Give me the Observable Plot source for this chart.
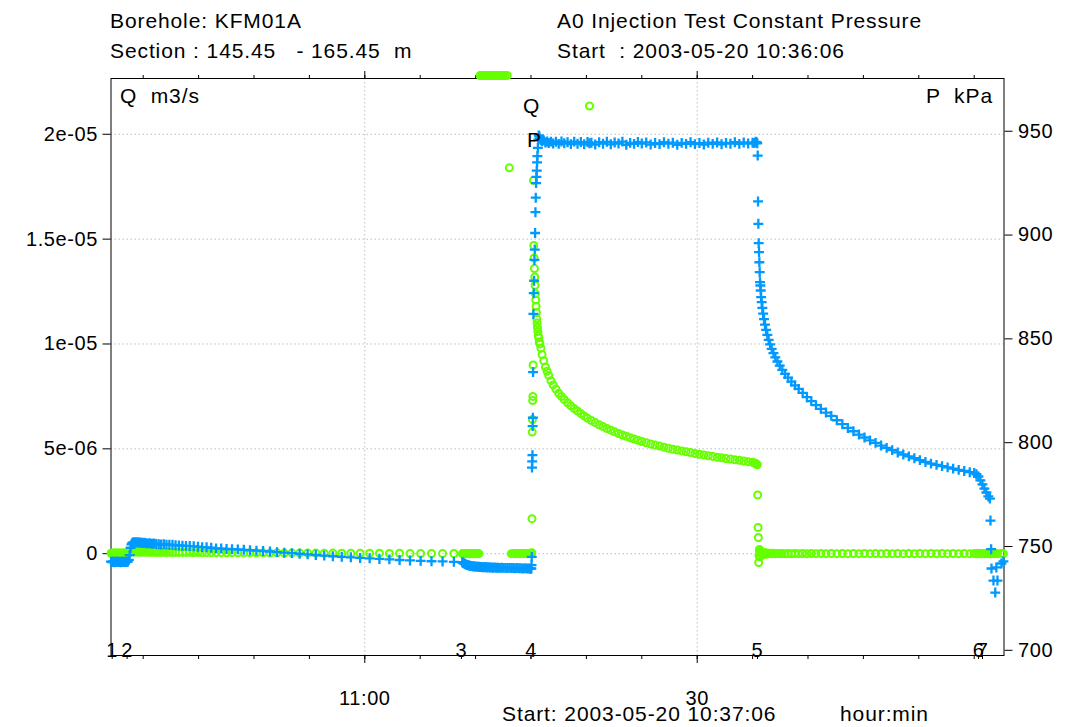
<!DOCTYPE html>
<html>
<head>
<meta charset="utf-8">
<script src="https://cdn.jsdelivr.net/npm/d3@7"></script>
<script src="https://cdn.jsdelivr.net/npm/@observablehq/plot@0.6"></script>
<style>
html,body{margin:0;padding:0;background:#fff;}
#wrap{position:relative;width:1069px;height:727px;overflow:hidden;font-family:"Liberation Sans",Arial,sans-serif;color:#000;}
#wrap svg{position:absolute;left:0;top:0;}
#wrap svg text{letter-spacing:0.6px;}
.lbl{position:absolute;font-size:21px;line-height:21px;letter-spacing:0.9px;white-space:pre;}
</style>
</head>
<body>
<div id="wrap"></div>
<script>
// ---- Data: [minutes after 10:00, Q (m3/s), P (kPa)] ----
const phaseIdle = [ // 10:37:06 -> event 3
[37.10,0.02e-6,742.7],[37.18,0.02e-6,742.5],[37.26,0.03e-6,742.8],[37.34,0.02e-6,742.6],[37.42,0.02e-6,742.4],
[37.50,0.03e-6,742.7],[37.58,0.02e-6,742.6],[37.66,0.02e-6,742.8],[37.74,0.03e-6,742.5],[37.82,0.02e-6,742.6],
[37.90,0.02e-6,742.7],[37.98,0.03e-6,742.4],[38.06,0.02e-6,742.6],[38.14,0.02e-6,742.8],[38.22,0.03e-6,742.5],
[38.30,0.02e-6,742.6],[38.38,0.02e-6,742.7],[38.46,0.03e-6,742.5],[38.54,0.02e-6,742.6],[38.62,0.02e-6,742.8],
[38.70,0.04e-6,743.6],[38.78,0.06e-6,745.8],[38.86,0.08e-6,749.4],[38.94,0.09e-6,751.0],[39.02,0.09e-6,751.7],
[39.12,0.09e-6,752.0],[39.22,0.08e-6,751.8],[39.32,0.09e-6,752.1],[39.44,0.08e-6,751.9],[39.56,0.09e-6,752.0],
[39.68,0.08e-6,751.8],[39.82,0.08e-6,751.9],[39.96,0.09e-6,751.7],[40.10,0.08e-6,751.8],[40.26,0.08e-6,751.6],
[40.42,0.08e-6,751.5],[40.60,0.07e-6,751.6],[40.78,0.08e-6,751.3],[40.98,0.07e-6,751.4],[41.18,0.07e-6,751.2],
[41.40,0.07e-6,751.1],[41.62,0.07e-6,751.0],[41.86,0.07e-6,751.1],[42.10,0.06e-6,750.9],[42.36,0.07e-6,750.8],
[42.64,0.06e-6,750.8],[42.92,0.06e-6,750.6],[43.22,0.06e-6,750.5],[43.54,0.06e-6,750.4],[43.86,0.06e-6,750.3],
[44.20,0.06e-6,750.2],[44.56,0.05e-6,750.1],[44.94,0.06e-6,749.9],[45.32,0.05e-6,749.7],[45.72,0.05e-6,749.6],
[46.14,0.05e-6,749.4],[46.58,0.05e-6,749.1],[47.04,0.05e-6,749.0],[47.52,0.04e-6,748.8],[48.02,0.05e-6,748.7],
[48.54,0.04e-6,748.6],[49.08,0.04e-6,748.4],[49.64,0.04e-6,748.2],[50.22,0.04e-6,748.0],[50.82,0.04e-6,747.8],
[51.44,0.03e-6,747.6],[52.08,0.04e-6,747.3],[52.74,0.03e-6,747.0],[53.42,0.03e-6,746.8],[54.12,0.03e-6,746.5],
[54.84,0.03e-6,746.2],[55.58,0.03e-6,745.9],[56.34,0.02e-6,745.6],[57.12,0.03e-6,745.3],[57.92,0.02e-6,745.0],
[58.74,0.02e-6,744.8],[59.58,0.02e-6,744.5],[60.44,0.02e-6,744.3],[61.32,0.02e-6,744.0],[62.22,0.01e-6,743.8],
[63.14,0.02e-6,743.5],[64.08,0.01e-6,743.3],[65.04,0.01e-6,743.1],[66.02,0.01e-6,742.9],[67.02,0.01e-6,742.8],
[68.04,0.01e-6,742.6]
];
const phasePreInjection = [ // event 3 -> event 4 (30e-6 = above axis range)
[68.80,0,742.4],[68.86,0.01e-6,742.2],[68.92,0,742.0],[68.98,0.01e-6,741.8],[69.04,0,741.6],
[69.10,0.01e-6,741.4],[69.18,0,741.2],[69.26,0.01e-6,741.1],[69.34,0,741.0],[69.42,0.01e-6,740.8],
[69.50,0,740.7],[69.60,0.01e-6,740.6],[69.70,0,740.5],[69.80,0.01e-6,740.5],[69.90,0,740.4],
[70.00,0.01e-6,740.3],[70.10,0,740.3],[70.20,0.01e-6,740.2],[70.30,0,740.2],
[70.40,30e-6,740.1],[70.52,30e-6,740.1],[70.64,30e-6,740.0],[70.76,30e-6,740.0],[70.88,30e-6,740.1],
[71.00,30e-6,739.9],[71.14,30e-6,740.0],[71.28,30e-6,739.9],[71.42,30e-6,739.9],[71.56,30e-6,739.8],
[71.70,30e-6,739.9],[71.86,30e-6,739.8],[72.02,30e-6,739.8],[72.18,30e-6,739.7],[72.34,30e-6,739.8],
[72.50,30e-6,739.7],[72.68,30e-6,739.7],[72.86,30e-6,739.6],
[73.04,18.4e-6,739.7],[73.22,0,739.6],[73.40,0.01e-6,739.6],[73.58,0,739.5],[73.76,0.01e-6,739.6],
[73.94,0,739.5],[74.12,0.01e-6,739.5],[74.30,0,739.4],[74.48,0.01e-6,739.5],[74.66,0,739.4],
[74.84,0.01e-6,739.4],[74.96,0,739.3]
];
const phaseInjection = [ // event 4 -> event 5
[75.03,0,739.4],[75.05,0.02e-6,741.0],[75.07,0.05e-6,745.0],[75.09,1.67e-6,788.0],[75.11,5.8e-6,791.0],
[75.13,6.4e-6,794.0],[75.15,7.3e-6,808.0],[75.17,7.5e-6,812.0],[75.19,9.0e-6,834.0],[75.22,17.8e-6,862.0],
[75.25,14.7e-6,872.0],[75.28,14.1e-6,878.0],[75.31,13.6e-6,888.0],[75.34,13.2e-6,893.0],[75.37,12.8e-6,901.0],
[75.40,12.4e-6,911.0],[75.43,12.1e-6,918.0],[75.46,11.8e-6,925.0],[75.49,11.5e-6,928.0],[75.52,11.2e-6,931.0],
[75.55,11.0e-6,935.0],[75.58,10.8e-6,938.0],[75.62,10.6e-6,942.0],[75.66,10.4e-6,946.0],[75.70,10.3e-6,948.0],
[75.75,10.1e-6,947.5],[75.80,10.0e-6,946.5],[75.90,9.8e-6,945.8],[76.00,9.5e-6,945.2],[76.15,9.2e-6,945.6],
[76.30,8.9e-6,944.6],[76.45,8.7e-6,945.1],[76.60,8.5e-6,944.3],[76.80,8.25e-6,945.0],[77.00,8.05e-6,944.1],
[77.25,7.85e-6,944.9],[77.50,7.65e-6,943.9],[77.75,7.5e-6,945.1],[78.00,7.35e-6,944.2],[78.30,7.2e-6,944.7],
[78.60,7.05e-6,943.8],[78.90,6.92e-6,945.0],[79.20,6.8e-6,944.0],[79.50,6.68e-6,944.8],[79.80,6.57e-6,943.7],
[80.10,6.46e-6,944.8],[80.28,21.35e-6,944.2],[80.45,6.35e-6,944.5],[80.80,6.25e-6,943.6],[81.15,6.15e-6,944.7],
[81.50,6.06e-6,944.0],[81.85,5.97e-6,944.9],[82.20,5.89e-6,943.7],[82.55,5.81e-6,944.6],[82.90,5.73e-6,944.1],
[83.25,5.66e-6,945.0],[83.60,5.6e-6,943.5],[83.95,5.53e-6,944.4],[84.30,5.47e-6,943.9],[84.65,5.41e-6,944.8],
[85.00,5.35e-6,944.1],[85.40,5.29e-6,944.6],[85.80,5.23e-6,943.6],[86.20,5.18e-6,944.3],[86.60,5.13e-6,943.8],
[87.00,5.08e-6,944.7],[87.40,5.03e-6,944.0],[87.80,4.98e-6,944.5],[88.20,4.94e-6,943.5],[88.60,4.9e-6,944.4],
[89.00,4.86e-6,943.9],[89.40,4.82e-6,944.7],[89.80,4.78e-6,943.8],[90.20,4.74e-6,944.3],[90.60,4.71e-6,943.6],
[91.00,4.67e-6,944.5],[91.40,4.64e-6,943.9],[91.80,4.6e-6,944.6],[92.20,4.57e-6,943.7],[92.60,4.54e-6,944.4],
[93.00,4.51e-6,944.0],[93.40,4.48e-6,944.7],[93.80,4.45e-6,943.9],[94.20,4.42e-6,944.6],[94.60,4.39e-6,944.1],
[95.00,4.36e-6,944.5],[95.15,4.33e-6,944.3],[95.28,4.3e-6,944.9],[95.38,4.26e-6,944.6],[95.42,4.24e-6,944.2]
];
const phaseRecovery = [ // event 5 -> end
[95.46,2.8e-6,938.3],[95.49,1.25e-6,916.2],[95.52,0.77e-6,905.4],[95.55,-0.42e-6,896.1],[95.58,-0.1e-6,891.8],
[95.61,0.2e-6,886.9],[95.64,0.1e-6,882.1],[95.67,-0.15e-6,877.3],[95.70,0.05e-6,875.7],[95.73,0.12e-6,873.3],
[95.77,0,870.1],[95.82,0.08e-6,867.7],[95.88,-0.05e-6,864.9],[95.95,0.06e-6,862.2],[96.03,0,859.5],
[96.12,0.04e-6,856.9],[96.22,-0.03e-6,854.3],[96.33,0.03e-6,851.9],[96.45,0,849.5],[96.58,0.02e-6,847.3],
[96.72,0,845.2],[96.88,0.02e-6,843.1],[97.05,0,841.1],[97.24,0.01e-6,839.1],[97.45,0,837.1],
[97.68,0.01e-6,835.1],[97.93,0,833.1],[98.20,0.01e-6,831.3],[98.50,0,829.4],[98.82,0.01e-6,827.6],
[99.16,0,825.9],[99.52,0.01e-6,824.0],[99.90,0,821.9],[100.30,0.01e-6,820.0],[100.72,0,818.1],
[101.16,0.01e-6,816.3],[101.62,0,814.5],[102.10,0.01e-6,812.9],[102.60,0,810.8],[103.10,0.01e-6,808.9],
[103.60,0,807.1],[104.10,0.01e-6,805.5],[104.60,0,803.9],[105.10,0.01e-6,802.5],[105.60,0,801.1],
[106.10,0.01e-6,799.9],[106.60,0,798.6],[107.10,0.01e-6,797.5],[107.60,0,796.4],[108.10,0.01e-6,795.3],
[108.60,0,794.3],[109.10,0.01e-6,793.4],[109.60,0,792.5],[110.10,0.01e-6,791.6],[110.60,0,790.7],
[111.10,0.01e-6,789.9],[111.60,0,789.3],[112.10,0.01e-6,788.7],[112.60,0,788.1],[113.10,0.01e-6,787.5],
[113.60,0,786.9],[114.10,0.01e-6,786.4],[114.60,0,785.8],[115.00,0.01e-6,785.4],[115.20,0,784.8],
[115.38,0.01e-6,783.7],[115.56,0,781.8],[115.74,0.01e-6,779.9],[115.92,0,777.9],[116.10,0.01e-6,776.0],
[116.28,0,774.1],[116.42,0.01e-6,773.1],[116.47,0,762.5],[116.53,0.01e-6,748.7],[116.56,0,739.4],
[116.74,0.01e-6,733.6],[116.90,0,727.8],[117.00,0.01e-6,739.9],[117.10,0,733.6],[117.46,0.01e-6,741.8],
[117.64,0,742.8]
];

// axes / ticks
const xDomain = [37.094, 117.69];          // minutes after 10:00
const qDomain = [-4.855e-6, 22.66e-6];     // m3/s
const pDomain = [697.5, 975.4];            // kPa
const qTicks = [0, 5e-6, 1e-5, 1.5e-5, 2e-5];
const qTickLabels = ["0", "5e-06", "1e-05", "1.5e-05", "2e-05"];
const pTicks = [700, 750, 800, 850, 900, 950];
const xMinorTicks = [40,45,50,55,60,65,70,75,80,85,90,95,100,105,110,115];
const xMajorTicks = [60, 90];
const xMajorLabels = ["11:00", "30"];
const eventTimes = [37.2, 38.55, 68.72, 75.0, 95.44, 115.39, 115.75];
const eventLabels = ["1","2","3","4","5","6","7"];

// ---- build ----
const rows = [...phaseIdle, ...phasePreInjection, ...phaseInjection, ...phaseRecovery]
  .map(([t, q, p]) => ({t, q, p}));
const qInRange = rows.filter(d => d.q <= qDomain[1]);
const qAbove = rows.filter(d => d.q > qDomain[1]);
const qLabel = new Map(qTicks.map((d, i) => [d, qTickLabels[i]]));
const xLabel = new Map(xMajorTicks.map((d, i) => [d, xMajorLabels[i]]));
const evLabel = new Map(eventTimes.map((d, i) => [d, eventLabels[i]]));

const W = 1069, H = 727;
const dims = {width: W, height: H, marginLeft: 110.5, marginRight: 65.5, marginTop: 78, marginBottom: 72};
const font = '"Liberation Sans", Arial, sans-serif';
const GREEN = "#66ff00", BLUE = "#0099ff", GRID = "#bdbdbd";

const qPlot = Plot.plot({
  ...dims,
  style: {fontFamily: font, fontSize: "20px", background: "transparent", overflow: "visible", color: "#000"},
  x: {domain: xDomain},
  y: {domain: qDomain, clamp: true},
  marks: [
    Plot.gridY(qTicks, {stroke: GRID, strokeOpacity: 1, strokeDasharray: "1.5,2.5"}),
    Plot.gridX(xMajorTicks, {stroke: GRID, strokeOpacity: 1, strokeDasharray: "1.5,2.5"}),
    Plot.axisY({ticks: qTicks, tickFormat: d => qLabel.get(d), tickSize: 8, tickPadding: 5, label: null, fontSize: 20}),
    Plot.axisX({anchor: "bottom", ticks: xMinorTicks, tickSize: 4, tickFormat: () => "", label: null}),
    Plot.axisX({anchor: "bottom", ticks: xMajorTicks, tickSize: 8, tickPadding: 27, tickFormat: d => xLabel.get(d), label: null, fontSize: 20}),
    Plot.axisX({anchor: "top", ticks: xMinorTicks, tickSize: 4, tickFormat: () => "", label: null}),
    Plot.axisX({anchor: "top", ticks: xMajorTicks, tickSize: 8, tickFormat: () => "", label: null}),
    Plot.axisX({anchor: "bottom", ticks: eventTimes, tickSize: 4, tickPadding: -17, tickFormat: d => evLabel.get(d), label: null, fontSize: 20}),
    Plot.frame({stroke: "#000"}),
    Plot.dot(qInRange, {x: "t", y: "q", r: 3.5, stroke: GREEN, strokeWidth: 2, fill: "none"}),
    Plot.dot(qAbove, {x: "t", y: "q", r: 3.5, stroke: GREEN, strokeWidth: 2, fill: "none", dy: -3})
  ]
});

const pPlot = Plot.plot({
  ...dims,
  style: {fontFamily: font, fontSize: "20px", background: "transparent", overflow: "visible", color: "#000"},
  x: {domain: xDomain, axis: null},
  y: {domain: pDomain},
  marks: [
    Plot.axisY({anchor: "right", ticks: pTicks, tickSize: 8, tickPadding: 6, tickFormat: d => String(d), label: null, fontSize: 20}),
    Plot.dot(rows, {x: "t", y: "p", symbol: "plus", r: 3.3, stroke: BLUE, strokeWidth: 2.3})
  ]
});

const wrap = document.getElementById("wrap");
wrap.appendChild(qPlot);
wrap.appendChild(pPlot);

// ---- text annotations (baseline-positioned) ----
const texts = [
  {s: "Borehole: KFM01A", x: 110, b: 28},
  {s: "Section : 145.45   - 165.45  m", x: 110, b: 58},
  {s: "A0 Injection Test Constant Pressure", x: 557, b: 28},
  {s: "Start  : 2003-05-20 10:36:06", x: 557, b: 58},
  {s: "Q  m3/s", x: 120, b: 103},
  {s: "P  kPa", r: 76, b: 103},
  {s: "Q", x: 523, b: 113},
  {s: "P", x: 527, b: 147},
  {s: "Start: 2003-05-20 10:37:06", x: 502, b: 721},
  {s: "hour:min", x: 840, b: 721}
];
for (const t of texts) {
  const d = document.createElement("div");
  d.className = "lbl";
  d.textContent = t.s;
  d.style.top = (t.b - 17.8) + "px";
  if (t.r !== undefined) d.style.right = t.r + "px"; else d.style.left = t.x + "px";
  wrap.appendChild(d);
}
</script>
</body>
</html>
